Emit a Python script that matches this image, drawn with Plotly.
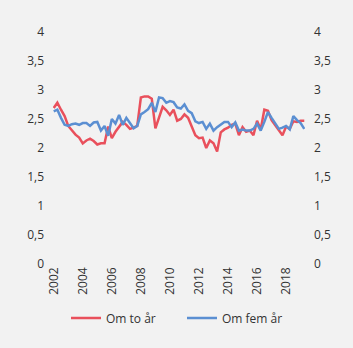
import plotly.graph_objects as go

quarters = [2002 + i / 4 for i in range(70)]

om_to_aar = [2.69, 2.78, 2.66, 2.55, 2.38, 2.30, 2.23, 2.18, 2.08, 2.13,
             2.16, 2.12, 2.06, 2.08, 2.08, 2.37, 2.17, 2.28, 2.37, 2.45,
             2.40, 2.33, 2.35, 2.38, 2.87, 2.89, 2.89, 2.85, 2.34, 2.52,
             2.71, 2.65, 2.57, 2.66, 2.47, 2.50, 2.58, 2.52, 2.38, 2.22,
             2.17, 2.18, 2.00, 2.13, 2.08, 1.94, 2.27, 2.32, 2.35, 2.40,
             2.42, 2.22, 2.36, 2.28, 2.30, 2.22, 2.47, 2.32, 2.66, 2.64,
             2.48, 2.40, 2.32, 2.22, 2.37, 2.33, 2.46, 2.45, 2.47, 2.47]

om_fem_aar = [2.63, 2.66, 2.52, 2.40, 2.38, 2.41, 2.42, 2.40, 2.43, 2.43,
              2.38, 2.44, 2.45, 2.30, 2.38, 2.21, 2.50, 2.42, 2.57, 2.40,
              2.52, 2.43, 2.34, 2.38, 2.58, 2.62, 2.67, 2.78, 2.62, 2.87,
              2.86, 2.78, 2.81, 2.79, 2.70, 2.68, 2.75, 2.64, 2.60, 2.46,
              2.43, 2.45, 2.33, 2.42, 2.30, 2.36, 2.40, 2.45, 2.45, 2.36,
              2.44, 2.30, 2.32, 2.30, 2.30, 2.33, 2.42, 2.30, 2.45, 2.62,
              2.52, 2.42, 2.33, 2.35, 2.38, 2.32, 2.55, 2.48, 2.43, 2.33]

x_ticks = [2002, 2004, 2006, 2008, 2010, 2012, 2014, 2016, 2018]
x_labels = [str(v) for v in x_ticks]
y_ticks = [0, 0.5, 1, 1.5, 2, 2.5, 3, 3.5, 4]
y_labels = ["0", "0,5", "1", "1,5", "2", "2,5", "3", "3,5", "4"]

RED = "#e9505c"
BLUE = "#5b8fd2"
TXT = "#333333"

fig = go.Figure()
fig.add_trace(go.Scatter(x=quarters, y=om_to_aar, mode="lines", name="Om to år",
                         line=dict(color=RED, width=2.5), yaxis="y"))
fig.add_trace(go.Scatter(x=quarters, y=om_fem_aar, mode="lines", name="Om fem år",
                         line=dict(color=BLUE, width=2.5), yaxis="y2"))

fig.update_layout(
    width=353, height=348,
    paper_bgcolor="#f2f2f2", plot_bgcolor="#f2f2f2",
    margin=dict(l=53, r=48, t=32, b=84),
    font=dict(family="Open Sans", size=12, color=TXT),
    xaxis=dict(range=[2001.95, 2019.3], tickmode="array", tickvals=x_ticks,
               ticktext=x_labels, tickangle=-90, showgrid=False, zeroline=False,
               showline=False, ticks="", fixedrange=True, automargin=False),
    yaxis=dict(range=[0, 4], tickmode="array", tickvals=y_ticks, ticktext=y_labels,
               showgrid=False, zeroline=False, showline=False, ticks="",
               ticklabelstandoff=8, automargin=False),
    yaxis2=dict(range=[0, 4], tickmode="array", tickvals=y_ticks, ticktext=y_labels,
                overlaying="y", side="right", showgrid=False, zeroline=False,
                showline=False, ticks="", ticklabelstandoff=8, automargin=False),
    legend=dict(orientation="h", xref="container", x=66 / 353, xanchor="left",
                yref="container", y=1 - 318 / 348, yanchor="middle",
                entrywidth=71, entrywidthmode="pixels",
                font=dict(size=12, color=TXT), bgcolor="rgba(0,0,0,0)"),
    showlegend=True,
)

fig.write_html("out.html")
